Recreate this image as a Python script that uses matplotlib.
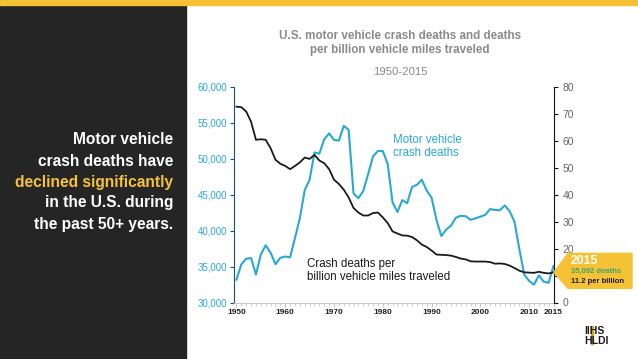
import numpy as np
import matplotlib.pyplot as plt
from matplotlib.patches import Rectangle, Polygon
from matplotlib.ticker import FuncFormatter, MultipleLocator

plt.rcParams["font.family"] = ["Liberation Sans", "DejaVu Sans"]

# data
years = list(range(1950, 2016))
deaths = [33186, 35309, 36088, 36190, 33890, 36688, 37965, 36932, 35331, 36223,
          36399, 36285, 38980, 41723, 45645, 47089, 50894, 50724, 52725, 53543,
          52627, 52542, 54589, 54052, 45196, 44525, 45523, 47878, 50331, 51093,
          51091, 49301, 43945, 42589, 44257, 43825, 46087, 46390, 47087, 45582,
          44599, 41508, 39250, 40150, 40716, 41817, 42065, 42013, 41501, 41717,
          41945, 42196, 43005, 42884, 42836, 43510, 42708, 41259, 37423, 33883,
          32999, 32479, 33782, 32894, 32744, 35092]
rate = [72.7, 72.5, 70.9, 67.1, 60.4, 60.6, 60.4, 57.3, 53.0, 51.5,
        50.7, 49.5, 50.7, 52.0, 53.8, 53.3, 54.8, 52.7, 51.7, 49.5,
        45.6, 44.0, 41.9, 39.0, 35.1, 33.4, 32.3, 32.3, 33.2, 33.4,
        31.6, 29.5, 26.4, 25.6, 24.9, 24.8, 24.3, 23.1, 21.5, 20.6,
        19.3, 17.8, 17.7, 17.6, 17.4, 16.9, 16.3, 16.0, 15.3, 15.2,
        15.2, 15.2, 15.0, 14.4, 14.5, 14.3, 13.7, 12.8, 11.8, 11.2,
        11.1, 11.0, 11.4, 11.0, 10.8, 11.2]
xticks = [1950, 1960, 1970, 1980, 1990, 2000, 2010, 2015]

BLUE = "#29a8d6"
YELLOW = "#f6c235"
DARK = "#252525"
GRAY = "#8a8a8a"

W, H = 638, 359
fig = plt.figure(figsize=(W / 100, H / 100), dpi=100)

# background panels
fig.patches.append(Rectangle((0, 0), 186 / W, 1, transform=fig.transFigure,
                             color=DARK, zorder=0))
fig.patches.append(Rectangle((0, 1 - 4.5 / H), 1, 4.5 / H, transform=fig.transFigure,
                             color=YELLOW, zorder=1))

# left panel message
left_lines = [("Motor vehicle", "white"), ("crash deaths have", "white"),
              ("declined significantly", YELLOW), ("in the U.S. during", "white"),
              ("the past 50+ years.", "white")]
for i, (txt, col) in enumerate(left_lines):
    fig.text(173 / W, 1 - (140 + 21 * i) / H, txt, color=col, fontsize=11.2,
             fontweight="bold", ha="right", va="center")

# titles
fig.text(400 / W, 1 - 43 / H,
         "U.S. motor vehicle crash deaths and deaths\nper billion vehicle miles traveled",
         ha="center", va="center", color=GRAY, fontsize=8.4, fontweight="bold",
         linespacing=1.2)
fig.text(400 / W, 1 - 72 / H, "1950-2015", ha="center", va="center",
         color=GRAY, fontsize=8.2)

ax = fig.add_axes([234 / W, 1 - 302.5 / H, 320 / W, 215.5 / H])
ax2 = ax.twinx()

ax.plot(years, deaths, color=BLUE, lw=1.5, zorder=3)
ax2.plot(years, rate, color="#1a1a1a", lw=1.3, zorder=2)

ax.set_xlim(1949.5, 2015.1)
ax.set_ylim(30000, 60000)
ax2.set_ylim(0, 80)

ax.set_xticks(xticks)
ax.xaxis.set_minor_locator(MultipleLocator(1))
ax.set_yticks(np.arange(30000, 60001, 5000))
ax.yaxis.set_major_formatter(FuncFormatter(lambda v, p: f"{int(v):,}"))
ax2.set_yticks(np.arange(0, 81, 10))

for a in (ax, ax2):
    a.spines["top"].set_visible(False)
    a.patch.set_visible(False)
ax.spines["right"].set_visible(False)
ax2.spines["left"].set_visible(False)
ax2.spines["bottom"].set_visible(False)
ax.spines["left"].set_color("#1d4f6e")
ax.spines["bottom"].set_color("#c8c8c8")
ax2.spines["right"].set_color("#111111")

ax.tick_params(axis="y", colors=BLUE, labelsize=7, length=3, pad=2)
ax.tick_params(axis="y", color="#1d4f6e")
ax.tick_params(axis="x", which="major", labelsize=6, length=3, color="#c8c8c8",
               labelcolor="#222222", pad=2)
ax.tick_params(axis="x", which="minor", length=2, color="#c8c8c8")
for lbl in ax.get_xticklabels():
    lbl.set_fontweight("bold")
ax2.tick_params(axis="y", labelsize=7.5, length=3, color="#111111",
                labelcolor="#666666", pad=3)

# series labels
ax.text(1982.0, 51700, "Motor vehicle\ncrash deaths", color=BLUE,
        fontsize=8.3, ha="left", va="center", linespacing=1.15)
ax.text(1964.5, 34500, "Crash deaths per\nbillion vehicle miles traveled",
        color="#1a1a1a", fontsize=8.3, ha="left", va="center", linespacing=1.1)

# 2015 callout anchored on the last rate value
fig.canvas.draw()
tip = ax2.transData.transform((ax.get_xlim()[1], rate[-1]))
inv = fig.transFigure.inverted()
tx, ty = tip
pts = [(tx, ty), (tx + 14, ty + 19), (tx + 78, ty + 19), (tx + 78, ty - 16),
       (tx + 14, ty - 16)]
fig.patches.append(Polygon([inv.transform(p) for p in pts], closed=True,
                           transform=fig.transFigure, color=YELLOW, zorder=5))
x0 = inv.transform((tx + 17, 0))[0]
fig.text(x0, inv.transform((0, ty + 11))[1], str(years[-1]), color="white",
         fontsize=8.8, fontweight="bold", va="center", zorder=6)
fig.text(x0, inv.transform((0, ty + 1))[1], f"{deaths[-1]:,} deaths",
         color="#3aa86b", fontsize=5.5, fontweight="bold", va="center", zorder=6)
fig.text(x0, inv.transform((0, ty - 9))[1], f"{rate[-1]} per billion",
         color="#1a1a1a", fontsize=5.5, fontweight="bold", va="center", zorder=6)

# logo
fig.patches.append(Rectangle((591 / W, 1 - 344 / H), 2 / W, 18 / H,
                             transform=fig.transFigure, color="#c9a227", zorder=1))
fig.text(584 / W, 1 - 331 / H, "IIHS", fontsize=7.5, fontweight="bold",
         color="#1a1a1a", va="center", zorder=2)
fig.text(584 / W, 1 - 341 / H, "HLDI", fontsize=7.5, fontweight="bold",
         color="#1a1a1a", va="center", zorder=2)

fig.savefig("out.png", dpi=100)
